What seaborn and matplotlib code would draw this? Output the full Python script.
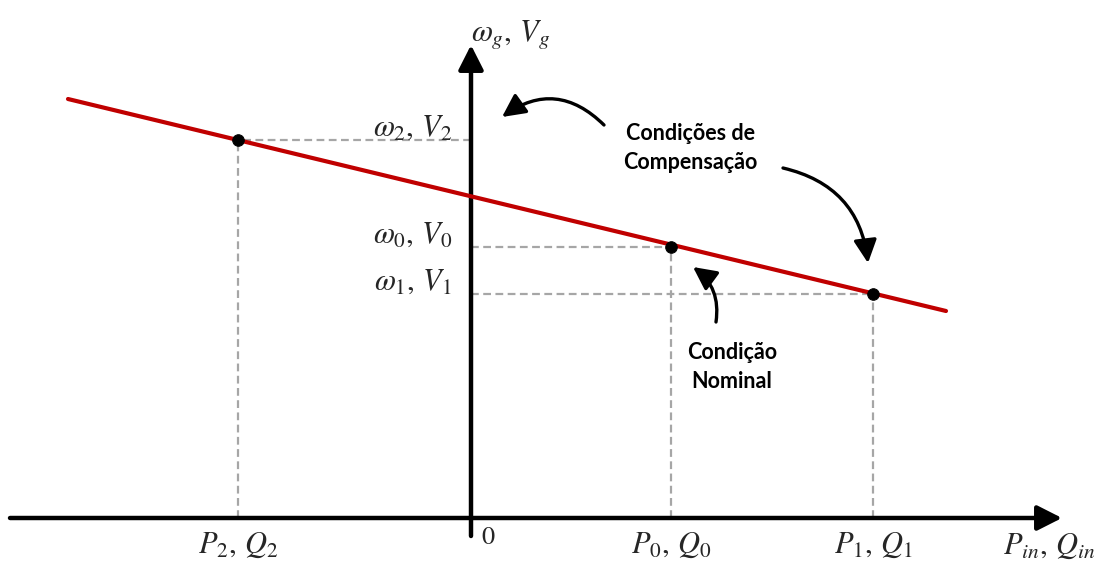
import matplotlib
matplotlib.use("Agg")
import matplotlib.pyplot as plt
import seaborn as sns
import pandas as pd
from matplotlib.patches import FancyArrowPatch

# Droop characteristic: operating points (power, frequency/voltage)
point_names = ["2", "0", "1"]
power = [-233, 200, 402]
freq_volt = [378, 271, 224]

# Droop line end points
line_power = [-403, 475]
line_freq_volt = [419, 207]

sns.set_style("white")
plt.rcParams["mathtext.fontset"] = "stix"
plt.rcParams["font.family"] = ["Lato", "DejaVu Sans"]

fig = plt.figure(figsize=(11.02, 5.62), dpi=100)
ax = fig.add_axes([0, 0, 1, 1])
ax.set_xlim(-471, 631)
ax.set_ylim(-44, 518)
ax.axis("off")

# Coordinate axes with arrow heads
axis_kw = dict(arrowstyle="-|>,head_length=0.75,head_width=0.38",
               color="black", lw=3.2, mutation_scale=20, shrinkA=0, shrinkB=0)
ax.annotate("", xy=(591, 0), xytext=(-461, 0), arrowprops=axis_kw)
ax.annotate("", xy=(0, 473), xytext=(0, -18), arrowprops=axis_kw)

# Dashed projection lines from each point to the axes
for p, w in zip(power, freq_volt):
    ax.plot([0, p], [w, w], ls=(0, (3.5, 2)), color="#a6a6a6", lw=1.6, zorder=1)
    ax.plot([p, p], [0, w], ls=(0, (3.5, 2)), color="#a6a6a6", lw=1.6, zorder=1)

# Droop line and operating points
df_line = pd.DataFrame({"P": line_power, "w": line_freq_volt})
sns.lineplot(data=df_line, x="P", y="w", color="#c00000", lw=3, ax=ax, zorder=3)
df_pts = pd.DataFrame({"P": power, "w": freq_volt})
sns.scatterplot(data=df_pts, x="P", y="w", color="black", s=70, edgecolor="black",
                ax=ax, zorder=4)
ax.set_xlabel("")
ax.set_ylabel("")

# Axis annotations
math_fs = 22
for name, p, w in zip(point_names, power, freq_volt):
    ax.text(-19, w + 12, rf"$\omega_{name},\,V_{name}$", fontsize=math_fs,
            ha="right", va="center")
    ax.text(p, -27, rf"$P_{name},\,Q_{name}$", fontsize=math_fs,
            ha="center", va="center")
ax.text(17, -19, "$0$", fontsize=19, ha="center", va="center")
ax.text(40, 483, r"$\omega_g,\,V_g$", fontsize=math_fs, ha="center", va="center")
ax.text(578, -28, r"$P_{in},\,Q_{in}$", fontsize=math_fs, ha="center", va="center")

# Callout texts
ax.text(219, 370, "Condições de\nCompensação", fontsize=15.5, fontweight="bold",
        ha="center", va="center", linespacing=1.45, color="black")
ax.text(261, 151, "Condição\nNominal", fontsize=15.5, fontweight="bold",
        ha="center", va="center", linespacing=1.45, color="black")

# Curved callout arrows
arrow_kw = dict(arrowstyle="-|>,head_length=0.7,head_width=0.35",
                color="black", lw=2.4, mutation_scale=20, shrinkA=0, shrinkB=0)
ax.add_patch(FancyArrowPatch((133, 393), (31, 401),
                             connectionstyle="arc3,rad=0.42", **arrow_kw))
ax.add_patch(FancyArrowPatch((312, 350), (397, 255),
                             connectionstyle="arc3,rad=-0.35", **arrow_kw))
ax.add_patch(FancyArrowPatch((245, 196), (222, 251),
                             connectionstyle="arc3,rad=0.3", **arrow_kw))

fig.savefig("out.png", dpi=100, facecolor="white")
